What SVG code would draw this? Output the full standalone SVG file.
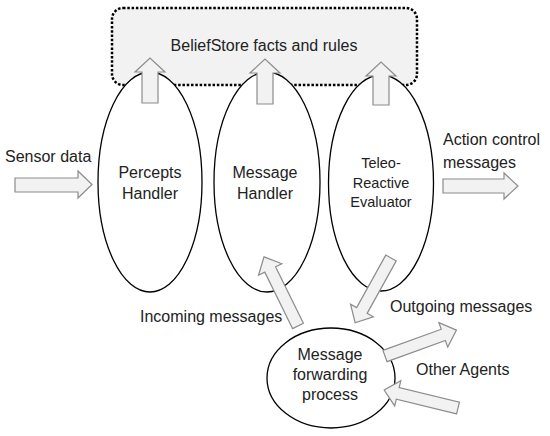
<svg xmlns="http://www.w3.org/2000/svg" width="550" height="436" viewBox="0 0 550 436">
<style>
text{font-family:"Liberation Sans",Arial,sans-serif;fill:#222;font-size:16px}
.c{text-anchor:middle}
.s{font-size:14.5px}
.el{fill:#fff;stroke:#000;stroke-width:1.3}
.ar{fill:#f2f2f2;stroke:#8c8c8c;stroke-width:1.2;stroke-linejoin:miter}
</style>
<rect width="550" height="436" fill="#fff"/>
<g id="beliefstore">
<rect x="112" y="8" width="305" height="77" rx="11" fill="#f2f2f2" stroke="#000" stroke-width="2.5" stroke-dasharray="2.5 1.8"/>
<text class="c" x="264" y="51">BeliefStore facts and rules</text>
</g>
<g id="percepts">
<ellipse class="el" cx="150" cy="182" rx="52" ry="110"/>
<text class="c" x="150" y="178">Percepts</text>
<text class="c" x="150" y="199">Handler</text>
</g>
<g id="message-handler">
<ellipse class="el" cx="267" cy="182" rx="53" ry="110"/>
<text class="c" x="265" y="178">Message</text>
<text class="c" x="265" y="199">Handler</text>
</g>
<g id="teleo">
<ellipse class="el" cx="381" cy="183" rx="52.5" ry="108"/>
<text class="c s" x="381" y="168">Teleo-</text>
<text class="c s" x="381" y="188">Reactive</text>
<text class="c s" x="381" y="207">Evaluator</text>
</g>
<g id="forwarding">
<ellipse class="el" cx="331" cy="378" rx="64" ry="50"/>
<text class="c" x="330" y="360">Message</text>
<text class="c" x="330" y="380">forwarding</text>
<text class="c" x="330" y="400">process</text>
</g>
<g id="labels">
<text x="5" y="162">Sensor data</text>
<text x="443" y="145">Action control</text>
<text x="443" y="168">messages</text>
<text x="140" y="322">Incoming messages</text>
<text x="390" y="312">Outgoing messages</text>
<text x="416" y="375">Other Agents</text>
</g>
<g id="connectors">
<path class="ar" d="M142,103V72H135L150,58L165,72H158V103Z"/>
<path class="ar" d="M257,104V73H250L265,59L280,73H273V104Z"/>
<path class="ar" d="M373,105V76H366L381,62L396,76H389V105Z"/>
<path class="ar" d="M15,178H78V171L92,184.5L78,198V192H15Z"/>
<path class="ar" d="M443,179H504V173L518,186L504,199V193H443Z"/>
<path class="ar" transform="translate(298,326) rotate(-116.2)" d="M0,-6H63V-13L77,0L63,13V6H0Z"/>
<path class="ar" transform="translate(391,258) rotate(119)" d="M0,-6H60V-13L74,0L60,13V6H0Z"/>
<path class="ar" transform="translate(385,356) rotate(-19.9)" d="M0,-6H62V-13L76,0L62,13V6H0Z"/>
<path class="ar" transform="translate(458,408) rotate(-166.3)" d="M0,-6H62V-13L76,0L62,13V6H0Z"/>
</g>
</svg>
